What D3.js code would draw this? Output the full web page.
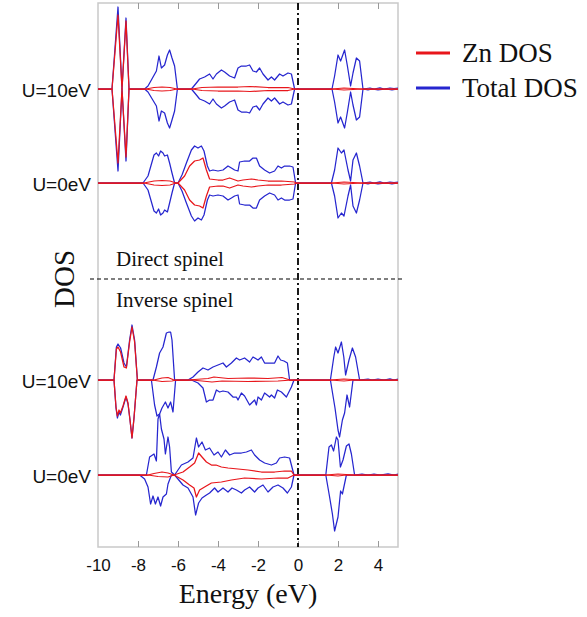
<!DOCTYPE html>
<html>
<head>
<meta charset="utf-8">
<script src="https://cdn.jsdelivr.net/npm/d3@7"></script>
<style>
  body { margin: 0; background: #fff; }
  svg { display: block; }
  .tick text { font-family: "Liberation Sans", Arial, sans-serif; font-size: 17px; fill: #111; }
  .tick line { stroke: #999; }
  .serif { font-family: "Liberation Serif", "Times New Roman", serif; fill: #111; }
  .sans { font-family: "Liberation Sans", Arial, sans-serif; fill: #111; }
</style>
</head>
<body>
<div class="chartBox"></div>
<script>
// x ticks (energy, eV)
var energyTicks = [-10, -8, -6, -4, -2, 0, 2, 4];

// panel labels, top to bottom, and their stacking offsets (DOS units)
var panelLabels = ["U=10eV", "U=0eV", "U=10eV", "U=0eV"];
var panelOffsets = [458, 364, 167, 72];
var groupLabels = ["Direct spinel", "Inverse spinel"];
var groupDivider = 268;

// [energy, DOS] pairs, spin up > 0, spin down < 0
var directU10TotUp = [[-10,0],[-9.3,0],[-9.0,82],[-8.8,0],[-8.6,71],[-8.45,0],
  [-7.67,0],[-7.5,3],[-7.08,18],[-6.95,33],[-6.83,21],[-6.67,24],[-6.53,34],[-6.42,39],[-6.3,31],[-6.17,23],[-6.03,0],
  [-5.33,0],[-5.08,6],[-4.92,10],[-4.67,12],[-4.42,15],[-4.25,10],[-4.08,15],[-3.83,19],[-3.67,17],[-3.42,13],[-3.17,11],
  [-3.0,21],[-2.83,23],[-2.58,23],[-2.42,24],[-2.25,18],[-2.08,17],[-1.92,21],[-1.75,15],[-1.5,9],[-1.33,12],[-1.17,9],
  [-0.92,15],[-0.75,13],[-0.5,16],[-0.33,15],[-0.17,0],
  [1.7,0],[1.83,13],[2.0,34],[2.13,28],[2.33,39],[2.47,23],[2.63,3],[2.75,16],[2.92,31],[3.08,28],[3.25,0],
  [3.6,1],[3.8,0],[4.1,1.2],[4.3,0],[4.6,1],[4.8,0.5],[5,1]];
var directU10TotDn = [[-10,0],[-9.3,0],[-9.0,-82],[-8.8,0],[-8.6,-72],[-8.45,0],
  [-7.67,0],[-7.5,-3],[-7.08,-17],[-6.95,-32],[-6.83,-22],[-6.67,-24],[-6.53,-34],[-6.42,-39],[-6.3,-31],[-6.17,-22],[-6.03,0],
  [-5.33,0],[-5.08,-6],[-4.92,-10],[-4.67,-12],[-4.42,-15],[-4.25,-10],[-4.08,-15],[-3.83,-19],[-3.67,-17],[-3.42,-13],[-3.17,-11],
  [-3.0,-21],[-2.83,-23],[-2.58,-23],[-2.42,-24],[-2.25,-18],[-2.08,-17],[-1.92,-21],[-1.75,-15],[-1.5,-9],[-1.33,-12],[-1.17,-9],
  [-0.92,-15],[-0.75,-13],[-0.5,-16],[-0.33,-15],[-0.17,0],
  [1.7,0],[1.83,-13],[2.0,-34],[2.13,-28],[2.33,-39],[2.47,-23],[2.63,-3],[2.75,-16],[2.92,-31],[3.08,-28],[3.25,0],
  [3.5,-1],[3.7,0],[4.0,-1],[4.4,0],[4.7,-1],[5,0]];
var directU10ZnUp = [[-10,0],[-9.3,0],[-9.0,74],[-8.8,0],[-8.6,68],[-8.45,0],[-7.6,0],[-7.2,1.5],[-6.8,2],[-6.4,1.5],[-6.05,0],
  [-5.3,0],[-4.8,1.5],[-4.0,2],[-3.0,2],[-2.4,2.5],[-1.5,1.5],[-0.5,1.5],[-0.17,0],[1.7,0],[2.3,1],[3.2,0],[5,0]];
var directU10ZnDn = [[-10,0],[-9.3,0],[-9.0,-74],[-8.8,0],[-8.6,-68],[-8.45,0],[-7.6,0],[-7.2,-1.5],[-6.8,-2],[-6.4,-1.5],[-6.05,0],
  [-5.3,0],[-4.8,-1.5],[-4.0,-2],[-3.0,-2],[-2.4,-2.5],[-1.5,-1.5],[-0.5,-1.5],[-0.17,0],[1.7,0],[2.3,-1],[3.2,0],[5,0]];

var directU0TotUp = [[-10,0],[-7.75,0],[-7.5,7],[-7.2,28],[-7.08,30],[-6.97,27],[-6.87,32],[-6.75,30],[-6.67,27],[-6.53,28],
  [-6.42,20],[-6.3,10],[-6.17,0],[-6.0,0],[-5.8,8],[-5.58,20],[-5.33,33],[-5.17,37],[-5.0,35],[-4.83,37],[-4.7,32],[-4.53,17],
  [-4.42,12],[-4.25,13],[-4.0,12],[-3.75,13],[-3.5,17],[-3.33,15],[-3.17,13],[-3.0,12],[-2.92,21],[-2.67,22],[-2.42,22],
  [-2.25,25],[-2.08,25],[-1.92,17],[-1.67,13],[-1.42,10],[-1.17,12],[-1.0,17],[-0.83,15],[-0.67,17],[-0.42,17],[-0.25,16],[-0.12,0],
  [1.67,0],[1.83,13],[2.0,35],[2.17,30],[2.3,33],[2.5,13],[2.63,2],[2.75,23],[2.92,30],[3.08,17],[3.25,0],
  [3.6,1],[3.8,0],[4.1,1.2],[4.3,0],[4.6,1],[4.8,0.5],[5,1]];
var directU0TotDn = [[-10,0],[-7.75,0],[-7.5,-7],[-7.2,-28],[-7.08,-30],[-6.97,-26],[-6.87,-32],[-6.75,-30],[-6.67,-27],[-6.53,-29],
  [-6.42,-20],[-6.3,-10],[-6.17,0],[-6.0,0],[-5.8,-8],[-5.58,-20],[-5.33,-33],[-5.17,-38],[-5.0,-35],[-4.83,-37],[-4.7,-32],[-4.53,-17],
  [-4.42,-12],[-4.25,-13],[-4.0,-12],[-3.75,-13],[-3.5,-17],[-3.33,-15],[-3.17,-13],[-3.0,-12],[-2.92,-21],[-2.67,-22],[-2.42,-22],
  [-2.25,-25],[-2.08,-25],[-1.92,-17],[-1.67,-13],[-1.42,-10],[-1.17,-12],[-1.0,-17],[-0.83,-15],[-0.67,-17],[-0.42,-17],[-0.25,-16],[-0.12,0],
  [1.67,0],[1.83,-13],[2.0,-35],[2.17,-30],[2.3,-33],[2.5,-13],[2.63,-2],[2.75,-23],[2.92,-30],[3.08,-17],[3.25,0],
  [3.5,-1],[3.7,0],[4.0,-1],[4.4,0],[4.7,-1],[5,0]];
var directU0ZnUp = [[-10,0],[-7.7,0],[-7.2,2],[-6.8,2.5],[-6.4,2],[-6.1,0],[-6.0,0],[-5.67,7],[-5.42,17],[-5.17,22],[-4.92,23],
  [-4.75,25],[-4.58,13],[-4.42,4],[-4.0,3],[-3.75,3],[-3.42,5],[-3.0,2],[-2.75,3],[-2.33,4],[-2.0,3],[-1.5,2],[-0.83,2],
  [-0.17,1],[-0.1,0],[1.7,0],[2.3,1],[3.2,0],[5,0]];
var directU0ZnDn = [[-10,0],[-7.7,0],[-7.2,-2],[-6.8,-2.5],[-6.4,-2],[-6.1,0],[-6.0,0],[-5.67,-7],[-5.42,-17],[-5.17,-22],[-4.92,-23],
  [-4.75,-25],[-4.58,-13],[-4.42,-4],[-4.0,-3],[-3.75,-3],[-3.42,-5],[-3.0,-2],[-2.75,-3],[-2.33,-4],[-2.0,-3],[-1.5,-2],[-0.83,-2],
  [-0.17,-1],[-0.1,0],[1.7,0],[2.3,-1],[3.2,0],[5,0]];

var inverseU10TotUp = [[-10,0],[-9.2,0],[-9.08,33],[-9.0,36],[-8.87,32],[-8.7,17],[-8.58,13],[-8.42,40],[-8.3,55],[-8.17,40],[-8.03,0],
  [-7.25,0],[-7.08,13],[-6.92,27],[-6.75,33],[-6.58,47],[-6.45,48],[-6.37,48],[-6.3,40],[-6.17,0],
  [-5.5,0],[-5.25,3],[-5.0,8],[-4.75,12],[-4.5,10],[-4.25,13],[-4.0,15],[-3.75,17],[-3.58,13],[-3.33,17],[-3.08,22],[-2.92,20],
  [-2.67,22],[-2.42,18],[-2.25,23],[-2.0,20],[-1.83,23],[-1.67,17],[-1.42,17],[-1.17,17],[-1.0,24],[-0.87,20],[-0.7,19],[-0.53,17],[-0.42,0],
  [1.62,0],[1.79,23],[1.88,33],[2.0,27],[2.17,38],[2.29,23],[2.38,5],[2.55,20],[2.72,32],[2.88,23],[3.08,0],
  [3.5,1],[3.7,0],[4.0,1],[4.3,0],[4.6,1.2],[4.8,0],[5,1]];
var inverseU10TotDn = [[-10,0],[-9.2,0],[-9.1,-28],[-9.03,-38],[-8.95,-32],[-8.88,-35],[-8.75,-27],[-8.6,-17],[-8.5,-24],[-8.4,-40],[-8.3,-58],[-8.2,-38],[-8.05,0],
  [-7.33,0],[-7.17,-25],[-7.05,-36],[-6.92,-34],[-6.8,-28],[-6.63,-22],[-6.5,-28],[-6.37,-22],[-6.25,-32],[-6.12,0],
  [-5.33,0],[-5.0,-3],[-4.75,-8],[-4.58,-22],[-4.42,-20],[-4.25,-20],[-4.08,-10],[-3.92,-12],[-3.75,-11],[-3.5,-12],[-3.25,-17],
  [-3.08,-17],[-3.0,-20],[-2.83,-13],[-2.67,-16],[-2.42,-25],[-2.17,-20],[-2.08,-25],[-2.0,-17],[-1.83,-20],[-1.67,-13],[-1.42,-17],
  [-1.33,-15],[-1.17,-18],[-1.03,-10],[-0.83,-12],[-0.58,-17],[-0.33,-7],[-0.2,0],
  [1.62,0],[1.85,-28],[2.0,-50],[2.08,-57],[2.22,-40],[2.33,-33],[2.45,-15],[2.58,-27],[2.75,0],[5,0]];
var inverseU10ZnUp = [[-10,0],[-9.2,0],[-9.08,31],[-9.0,33],[-8.87,28],[-8.7,13],[-8.58,12],[-8.42,38],[-8.3,53],[-8.17,38],[-8.03,0],
  [-7.2,0],[-6.8,2],[-6.5,2.5],[-6.2,0],[-5.5,0],[-4.5,1.5],[-4.2,3],[-3.5,1.5],[-2.5,2],[-1.5,1.5],[-0.8,2.5],[-0.4,0],
  [1.6,0],[2.3,1],[3.1,0],[5,0]];
var inverseU10ZnDn = [[-10,0],[-9.2,0],[-9.1,-27],[-9.03,-36],[-8.95,-30],[-8.88,-33],[-8.75,-26],[-8.6,-16],[-8.5,-23],[-8.4,-40],[-8.3,-58],[-8.2,-38],[-8.05,0],
  [-7.3,0],[-6.8,-1.5],[-6.3,-1],[-6.1,0],[-5.3,0],[-4.3,-2],[-3.8,-1],[-2.5,-1.5],[-1.0,-1],[-0.3,0],
  [1.6,0],[2.3,-1],[2.8,0],[5,0]];

var inverseU0TotUp = [[-10,0],[-7.58,0],[-7.42,18],[-7.2,21],[-7.08,14],[-7.0,56],[-6.92,61],[-6.83,46],[-6.7,36],[-6.63,21],
  [-6.5,38],[-6.42,28],[-6.33,3],[-6.17,0],[-5.83,10],[-5.5,13],[-5.25,17],[-5.08,37],[-4.97,28],[-4.8,33],[-4.63,25],[-4.42,27],
  [-4.2,20],[-4.0,23],[-3.83,18],[-3.63,25],[-3.42,20],[-3.17,22],[-2.83,22],[-2.58,23],[-2.33,25],[-2.17,20],[-1.92,15],
  [-1.67,12],[-1.33,10],[-1.08,12],[-0.92,17],[-0.67,18],[-0.42,17],[-0.2,0],
  [1.39,0],[1.55,28],[1.67,30],[1.78,24],[1.92,38],[2.0,35],[2.12,8],[2.25,15],[2.42,29],[2.55,31],[2.67,21],[2.83,0],
  [3.2,1],[3.5,0],[3.8,1],[4.1,0],[4.5,1.2],[4.8,0],[5,1]];
var inverseU0TotDn = [[-10,0],[-7.92,0],[-7.67,-4],[-7.5,-12],[-7.37,-29],[-7.25,-21],[-7.13,-29],[-7.0,-22],[-6.87,-31],[-6.75,-22],
  [-6.58,-19],[-6.5,-9],[-6.33,0],[-6.17,0],[-5.75,-10],[-5.5,-13],[-5.25,-22],[-5.12,-40],[-4.97,-28],[-4.8,-23],[-4.58,-20],
  [-4.42,-18],[-4.17,-13],[-4.0,-17],[-3.75,-13],[-3.5,-17],[-3.3,-13],[-3.08,-15],[-2.83,-18],[-2.67,-15],[-2.42,-12],[-2.17,-17],
  [-2.0,-13],[-1.75,-10],[-1.5,-17],[-1.25,-12],[-1.0,-10],[-0.75,-13],[-0.53,-18],[-0.33,-12],[-0.2,0],
  [1.39,0],[1.58,-22],[1.72,-39],[1.83,-56],[2.0,-42],[2.13,-16],[2.22,-19],[2.42,0],[5,0]];
var inverseU0ZnUp = [[-10,0],[-7.5,0],[-7.2,1.5],[-6.8,3],[-6.5,2],[-6.2,0],[-5.75,3],[-5.42,8],[-5.17,12],[-4.97,22],[-4.8,18],
  [-4.58,13],[-4.33,10],[-4.1,10],[-3.83,8],[-3.5,7],[-3.0,6],[-2.5,5],[-1.83,3],[-1.17,3],[-0.67,4],[-0.33,4],[-0.2,0],
  [1.4,0],[2.0,1],[2.8,0],[5,0]];
var inverseU0ZnDn = [[-10,0],[-7.5,0],[-7.0,-1.5],[-6.5,-2],[-6.2,0],[-5.75,-5],[-5.42,-10],[-5.2,-13],[-5.08,-22],[-4.92,-15],
  [-4.67,-12],[-4.33,-8],[-3.83,-7],[-3.33,-5],[-2.67,-3],[-1.83,-4],[-1.0,-3],[-0.5,-3],[-0.2,0],
  [1.4,0],[2.0,-1],[2.4,0],[5,0]];

var totalSeries = [[directU10TotUp, directU10TotDn], [directU0TotUp, directU0TotDn],
                   [inverseU10TotUp, inverseU10TotDn], [inverseU0TotUp, inverseU0TotDn]];
var znSeries = [[directU10ZnUp, directU10ZnDn], [directU0ZnUp, directU0ZnDn],
                [inverseU10ZnUp, inverseU10ZnDn], [inverseU0ZnUp, inverseU0ZnDn]];

var legendItems = [{name: "Zn DOS", color: "#e8161b"}, {name: "Total DOS", color: "#2626cf"}];

// plot box (note: "top" is taken by window.top, so use other names)
var plotL = 98, plotR = 398, plotT = 3, plotB = 547;

var x = d3.scaleLinear().domain([-10, 5]).range([plotL, plotR]);
var y = d3.scaleLinear().domain([0, 544]).range([plotB, plotT]);

var svg = d3.select(".chartBox").append("svg")
  .attr("width", 587)
  .attr("height", 617);

// frame
svg.append("rect")
  .attr("x", plotL).attr("y", plotT)
  .attr("width", plotR - plotL).attr("height", plotB - plotT)
  .attr("fill", "none")
  .attr("stroke", "#c9c9c9")
  .attr("stroke-width", 1.5);

// inward ticks, labels only at the bottom
var bottomAxis = svg.append("g")
  .attr("transform", "translate(0," + plotB + ")")
  .call(d3.axisBottom(x).tickValues(energyTicks).tickSizeInner(-6).tickSizeOuter(0).tickPadding(12)
    .tickFormat(function(d){ return String(d); }));
bottomAxis.select(".domain").remove();
bottomAxis.selectAll(".tick line").filter(function(d){ return d === -10; }).remove();

var topAxis = svg.append("g")
  .attr("transform", "translate(0," + plotT + ")")
  .call(d3.axisTop(x).tickValues(energyTicks).tickSizeInner(-6).tickSizeOuter(0).tickFormat(""));
topAxis.select(".domain").remove();
topAxis.selectAll(".tick").filter(function(d){ return d === -10; }).remove();

// Fermi level and divider between the two structures
svg.append("line")
  .attr("x1", x(0)).attr("x2", x(0))
  .attr("y1", plotT).attr("y2", plotB)
  .attr("stroke", "#000")
  .attr("stroke-width", 1.8)
  .attr("stroke-dasharray", "7,3,2,3");

svg.append("line")
  .attr("x1", 90).attr("x2", 405)
  .attr("y1", y(groupDivider)).attr("y2", y(groupDivider))
  .attr("stroke", "#000")
  .attr("stroke-width", 1.2)
  .attr("stroke-dasharray", "4,3");

var lineFor = function(offset){
  return d3.line()
    .x(function(d){ return x(d[0]); })
    .y(function(d){ return y(offset + d[1]); });
};

var drawCurves = function(series, color){
  series.forEach(function(pair, i){
    pair.forEach(function(data){
      svg.append("path")
        .datum(data)
        .attr("d", lineFor(panelOffsets[i]))
        .attr("fill", "none")
        .attr("stroke", color)
        .attr("stroke-width", 1.25)
        .attr("stroke-linejoin", "round");
    });
  });
};

// total first, Zn on top of it
drawCurves(totalSeries, legendItems[1].color);
drawCurves(znSeries, legendItems[0].color);

// panel labels on the left
svg.selectAll(".panelLabel")
  .data(panelLabels)
  .enter().append("text")
  .attr("class", "panelLabel sans")
  .attr("x", 91)
  .attr("y", function(d, i){ return y(panelOffsets[i]) + 1; })
  .attr("text-anchor", "end")
  .attr("dominant-baseline", "central")
  .style("font-size", "19px")
  .text(function(d){ return d; });

svg.selectAll(".groupLabel")
  .data(groupLabels)
  .enter().append("text")
  .attr("class", "groupLabel serif")
  .attr("x", 116)
  .attr("y", function(d, i){ return y(groupDivider) + (i === 0 ? -13 : 28); })
  .style("font-size", "21px")
  .text(function(d){ return d; });

// axis titles
svg.append("text")
  .attr("class", "serif")
  .attr("x", (plotL + plotR) / 2)
  .attr("y", 603)
  .attr("text-anchor", "middle")
  .style("font-size", "28px")
  .text("Energy (eV)");

svg.append("text")
  .attr("class", "serif")
  .attr("transform", "translate(74,279) rotate(-90)")
  .attr("text-anchor", "middle")
  .style("font-size", "29px")
  .text("DOS");

// legend
var legend = svg.selectAll(".legend")
  .data(legendItems)
  .enter().append("g")
  .attr("class", "legend")
  .attr("transform", function(d, i){ return "translate(416," + (53 + i * 35) + ")"; });

legend.append("line")
  .attr("x1", 0).attr("x2", 34)
  .attr("stroke", function(d){ return d.color; })
  .attr("stroke-width", 3);

legend.append("text")
  .attr("class", "serif")
  .attr("x", 46)
  .attr("y", 0)
  .attr("dominant-baseline", "central")
  .style("font-size", "27px")
  .text(function(d){ return d.name; });
</script>
</body>
</html>
